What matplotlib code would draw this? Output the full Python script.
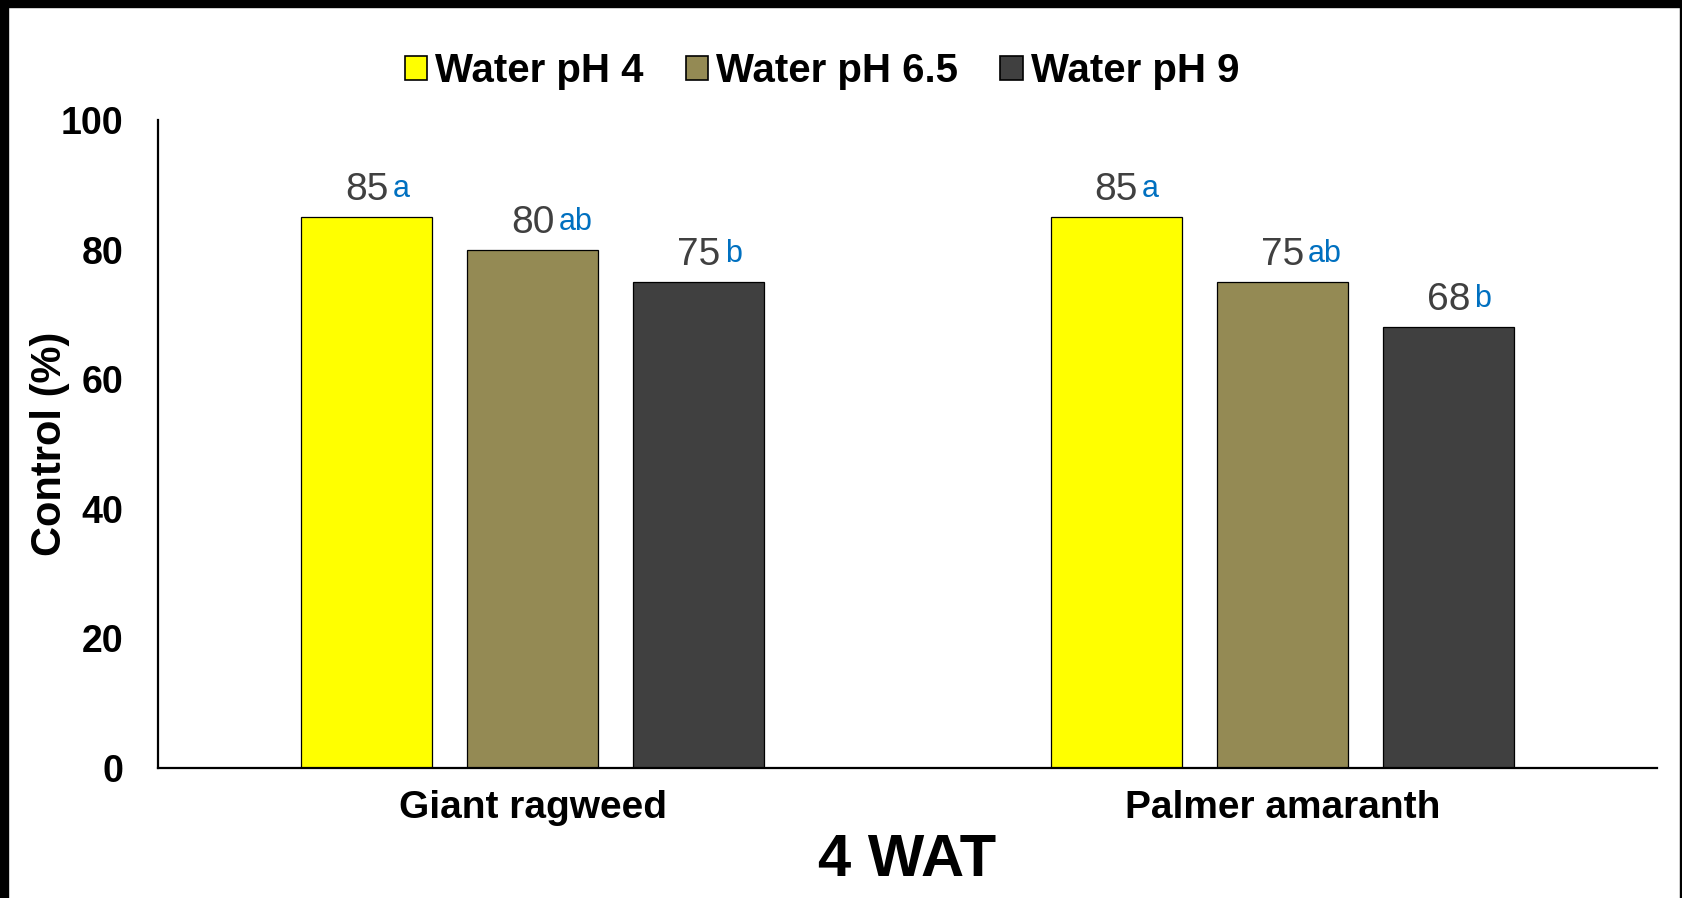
import matplotlib.pyplot as plt
import numpy as np
from matplotlib.patches import Patch, Rectangle

plt.rcParams['font.family'] = ['Liberation Sans', 'DejaVu Sans']

# Data
species = ['Giant ragweed', 'Palmer amaranth']
treatments = ['Water pH 4', 'Water pH 6.5', 'Water pH 9']
control = {
    'Water pH 4': [85, 85],
    'Water pH 6.5': [80, 75],
    'Water pH 9': [75, 68],
}
letters = {
    'Water pH 4': ['a', 'a'],
    'Water pH 6.5': ['ab', 'ab'],
    'Water pH 9': ['b', 'b'],
}
colors = ['#FFFF00', '#948A54', '#404040']
yticks = [0, 20, 40, 60, 80, 100]

W, H = 1683, 898
fig = plt.figure(figsize=(W / 100, H / 100), dpi=100)
ax = fig.add_axes([158 / W, 1 - 768 / H, (1657 - 158) / W, (768 - 120) / H])

x = np.arange(len(species))
width = 0.175
step = 0.2215

for i, t in enumerate(treatments):
    pos = x + (i - 1) * step
    bars = ax.bar(pos, control[t], width, color=colors[i],
                  edgecolor='black', linewidth=0.9, label=t)
    for b, v, let in zip(bars, control[t], letters[t]):
        cx = b.get_x() + b.get_width() / 2
        ax.annotate(str(v), (cx, v), xytext=(0, 17), textcoords='offset pixels',
                    ha='center', va='baseline', fontsize=28, color='#404040')
        ax.annotate(let, (cx, v), xytext=(26, 20), textcoords='offset pixels',
                    ha='left', va='baseline', fontsize=22, color='#0070C0')

ax.set_xlim(-0.5, 1.5)
ax.set_ylim(0, 100)
ax.set_yticks(yticks)
ax.set_xticks(x)
ax.set_xticklabels(species, fontsize=28, fontweight='bold')
ax.tick_params(axis='y', length=0, pad=25, labelsize=27)
ax.tick_params(axis='x', length=0, pad=16)
for lab in ax.get_yticklabels():
    lab.set_fontweight('bold')

for s in ['top', 'right']:
    ax.spines[s].set_visible(False)
for s in ['left', 'bottom']:
    ax.spines[s].set_linewidth(1.6)

ax.set_ylabel('Control (%)', fontsize=30, fontweight='bold')
ax.yaxis.set_label_coords(-0.059, 0.5)
ax.set_xlabel('4 WAT', fontsize=43, fontweight='bold', labelpad=5)

handles = [Patch(facecolor=c, edgecolor='black', linewidth=1.2) for c in colors]
fig.legend(handles, treatments, loc='center', bbox_to_anchor=(822 / W, 1 - 71 / H),
           ncol=3, frameon=False, prop={'size': 29, 'weight': 'bold'},
           handlelength=0.55, handleheight=0.55, handletextpad=0.2,
           columnspacing=1.05)

# Black frame on the left, top and right edges of the picture
fig.add_artist(Rectangle((0, 0), 8 / W, 1, transform=fig.transFigure, color='black'))
fig.add_artist(Rectangle((0, 1 - 7 / H), 1, 7 / H, transform=fig.transFigure, color='black'))
fig.add_artist(Rectangle((1 - 3 / W, 0), 3 / W, 1, transform=fig.transFigure, color='black'))

fig.savefig('out.png', dpi=100)
